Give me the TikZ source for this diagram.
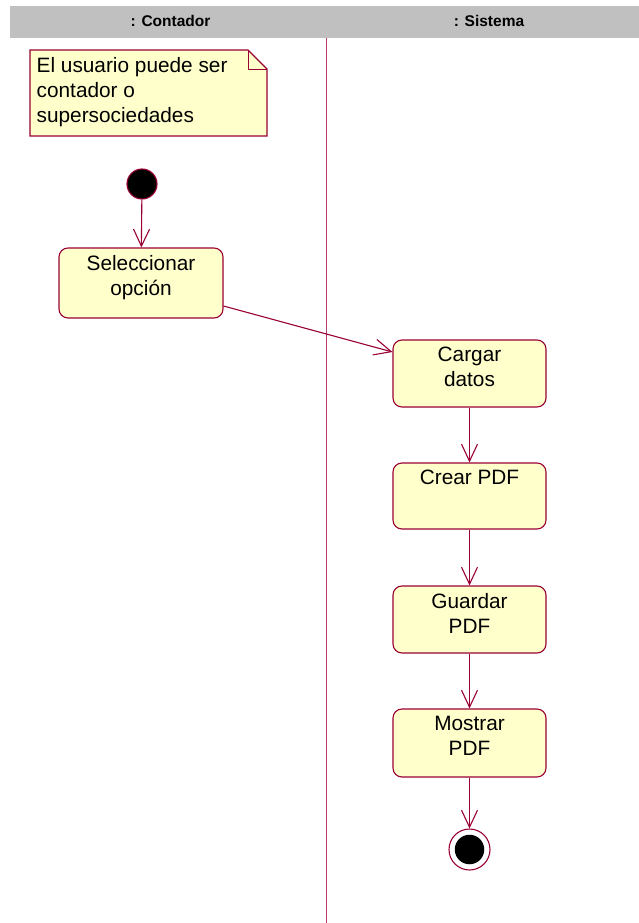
\documentclass[tikz,border=0pt]{standalone}
\usepackage{fontspec}
\setmainfont{Liberation Sans}
\usetikzlibrary{arrows.meta}

\definecolor{umlline}{RGB}{153,0,51}
\definecolor{umllane}{RGB}{185,60,115}
\definecolor{umlfill}{RGB}{255,255,204}
\definecolor{umlhead}{RGB}{192,192,192}

\tikzset{
  activity/.style={draw=umlline, fill=umlfill, line width=1.1pt,
    rounded corners=9pt, minimum width=153pt, minimum height=67pt,
    inner sep=0pt},
  acttext/.style={anchor=north, inner sep=0pt, yshift=-7.5pt, align=center,
    font=\fontsize{20.8}{25}\selectfont},
  flow/.style={draw=umlline, line width=1.1pt,
    -{Straight Barb[length=17pt, width=16pt, line width=1.1pt]}},
  lanehead/.style={anchor=base, inner sep=0pt,
    font=\fontsize{15.5}{18}\selectfont\bfseries},
}

\begin{document}
\begin{tikzpicture}[x=1pt, y=-1pt]
\useasboundingbox (0,0) rectangle (639,923);

% swimlane header and divider
\fill[umlhead] (10,6) rectangle (639,38);
\node[lanehead] (laneA) at (170.5,27) {: Contador};
\node[lanehead] (laneB) at (489,27) {: Sistema};
\draw[umllane, line width=0.8pt] (326,38) -- (326,923);

% note with folded corner
\draw[umlline, fill=umlfill, line width=1.1pt]
  (30,50) -- (248,50) -- (267,69) -- (267,136) -- (30,136) -- cycle;
\draw[umlline, line width=0.6pt] (248,50) -- (248,69) -- (267,69);
\node[anchor=north west, inner sep=0pt, align=left,
  font=\fontsize{20.8}{25}\selectfont] (note) at (36.5,57.5)
  {El usuario puede ser\\contador o\\supersociedades};

% initial state
\node[circle, draw=umlline, fill=black, line width=1.1pt,
  minimum size=30pt, inner sep=0pt] (start) at (142,184) {};

% activities
\node[activity, minimum width=164pt, minimum height=70pt,
  label={[acttext]north:Seleccionar\\opción}] (sel) at (141,283) {};
\node[activity, label={[acttext]north:Cargar\\datos}] (cargar) at (469.5,373.5) {};
\node[activity, minimum height=66pt,
  label={[acttext]north:Crear PDF}] (crear) at (469.5,496) {};
\node[activity, label={[acttext]north:Guardar\\PDF}] (guardar) at (469.5,619.5) {};
\node[activity, minimum height=68pt,
  label={[acttext]north:Mostrar\\PDF}] (mostrar) at (469.5,743) {};

% final state
\node[circle, draw=umlline, fill=white, line width=1.1pt,
  minimum size=41pt, inner sep=0pt] (final) at (469.5,849.5) {};
\node[circle, fill=black, minimum size=29.5pt, inner sep=0pt] (finaldot) at (final.center) {};

% transitions
\draw[flow] (start) -- (sel);
\draw[flow] ([yshift=-23pt]sel.east) -- ([yshift=21.5pt]cargar.west);
\draw[flow] (cargar) -- (crear);
\draw[flow] (crear) -- (guardar);
\draw[flow] (guardar) -- (mostrar);
\draw[flow] (mostrar) -- (final);
\end{tikzpicture}
\end{document}
